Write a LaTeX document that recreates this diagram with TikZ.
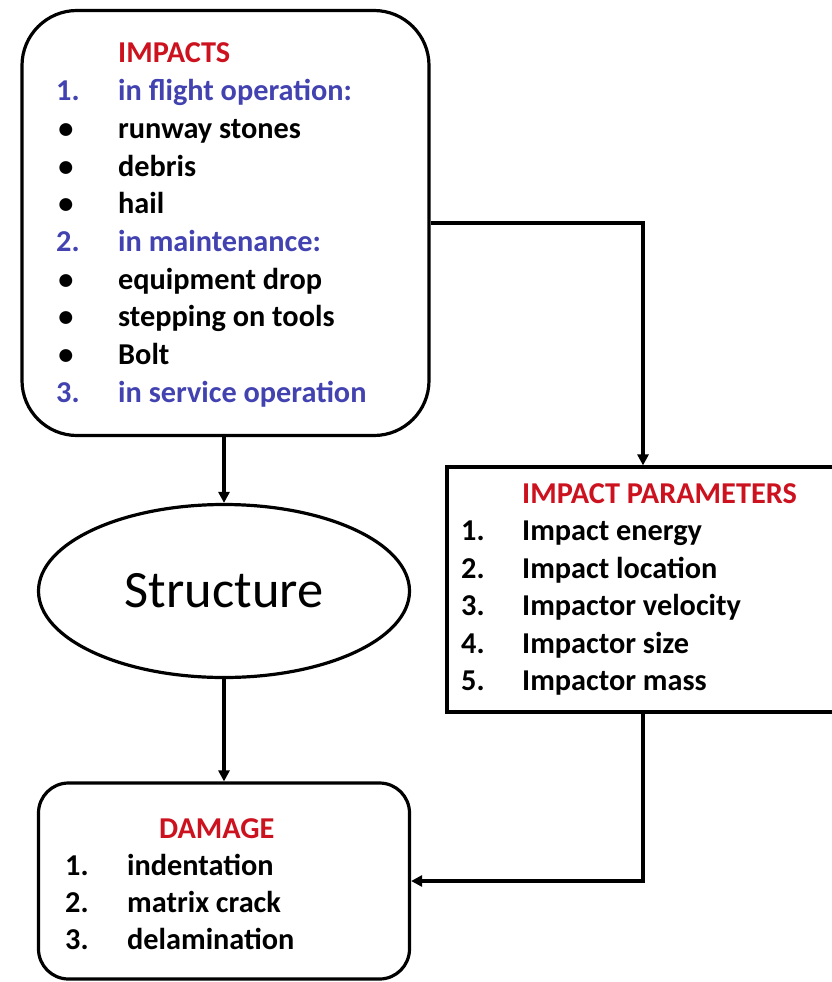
\documentclass[tikz,border=0pt]{standalone}
\usepackage{fontspec}
\setmainfont{Carlito}
\usetikzlibrary{arrows.meta,shapes.geometric}
\definecolor{headred}{RGB}{204,18,30}
\definecolor{itemblue}{RGB}{66,66,176}
\begin{document}
\begin{tikzpicture}[x=1pt,y=-1pt,
  frame/.style={draw=black,line width=3.2pt,inner sep=0pt},
  arr/.style={draw=black,line width=3.4pt,-{Triangle[length=11pt,width=11pt]}},
  txt/.style={anchor=base west,inner sep=0pt,font=\bfseries\fontsize{30.3}{36}\selectfont},
  bul/.style={anchor=base,inner sep=0pt,font=\bfseries\fontsize{30.3}{36}\selectfont},
  head/.style={txt,text=headred},
  sub/.style={txt,text=itemblue}]
\useasboundingbox (0,0) rectangle (832,982);
\clip (0,0) rectangle (832,982);
\fill[white] (0,0) rectangle (832,982);

% boxes
\node[frame,rounded corners=55pt,minimum width=407pt,minimum height=425pt] (impacts) at (225.5,223) {};
\node[frame,ellipse,minimum width=371pt,minimum height=173pt,font=\fontsize{52.5}{62}\selectfont] (structure) at (224,591) {Structure};
\node[frame,rectangle,minimum width=392pt,minimum height=245pt] (params) at (643,589.5) {};
\node[frame,rounded corners=30pt,minimum width=371pt,minimum height=196pt] (damage) at (224,881) {};

% impacts list
\node[head] (ih) at (118,63) {IMPACTS};
\node[sub] (in1) at (56,100.7) {1.};
\node[sub] (it1) at (118,100.7) {in flight operation:};
\node[bul] (ib1) at (66,138.4) {•};
\node[txt] (it2) at (118,138.4) {runway stones};
\node[bul] (ib2) at (66,176.1) {•};
\node[txt] (it3) at (118,176.1) {debris};
\node[bul] (ib3) at (66,213.8) {•};
\node[txt] (it4) at (118,213.8) {hail};
\node[sub] (in2) at (56,251.5) {2.};
\node[sub] (it5) at (118,251.5) {in maintenance:};
\node[bul] (ib4) at (66,289.2) {•};
\node[txt] (it6) at (118,289.2) {equipment drop};
\node[bul] (ib5) at (66,326.9) {•};
\node[txt] (it7) at (118,326.9) {stepping on tools};
\node[bul] (ib6) at (66,364.6) {•};
\node[txt] (it8) at (118,364.6) {Bolt};
\node[sub] (in3) at (56,402.3) {3.};
\node[sub] (it9) at (118,402.3) {in service operation};

% impact parameters list
\node[head] (ph) at (522,503) {IMPACT PARAMETERS};
\node[txt] (pn1) at (461,540.5) {1.};
\node[txt] (pt1) at (522,540.5) {Impact energy};
\node[txt] (pn2) at (461,578) {2.};
\node[txt] (pt2) at (522,578) {Impact location};
\node[txt] (pn3) at (461,615.5) {3.};
\node[txt] (pt3) at (522,615.5) {Impactor velocity};
\node[txt] (pn4) at (461,653) {4.};
\node[txt] (pt4) at (522,653) {Impactor size};
\node[txt] (pn5) at (461,690.5) {5.};
\node[txt] (pt5) at (522,690.5) {Impactor mass};

% damage list
\node[head] (dh) at (159,838) {DAMAGE};
\node[txt] (dn1) at (65,875) {1.};
\node[txt] (dt1) at (127,875) {indentation};
\node[txt] (dn2) at (65,912) {2.};
\node[txt] (dt2) at (127,912) {matrix crack};
\node[txt] (dn3) at (65,949) {3.};
\node[txt] (dt3) at (127,949) {delamination};

% connectors
\draw[arr] (impacts.south -| structure.north) -- (structure.north);
\draw[arr] (structure.south) -- (damage.north);
\draw[arr] (impacts.east) -| (params.north);
\draw[arr] (params.south) |- (damage.east);
\end{tikzpicture}
\end{document}
